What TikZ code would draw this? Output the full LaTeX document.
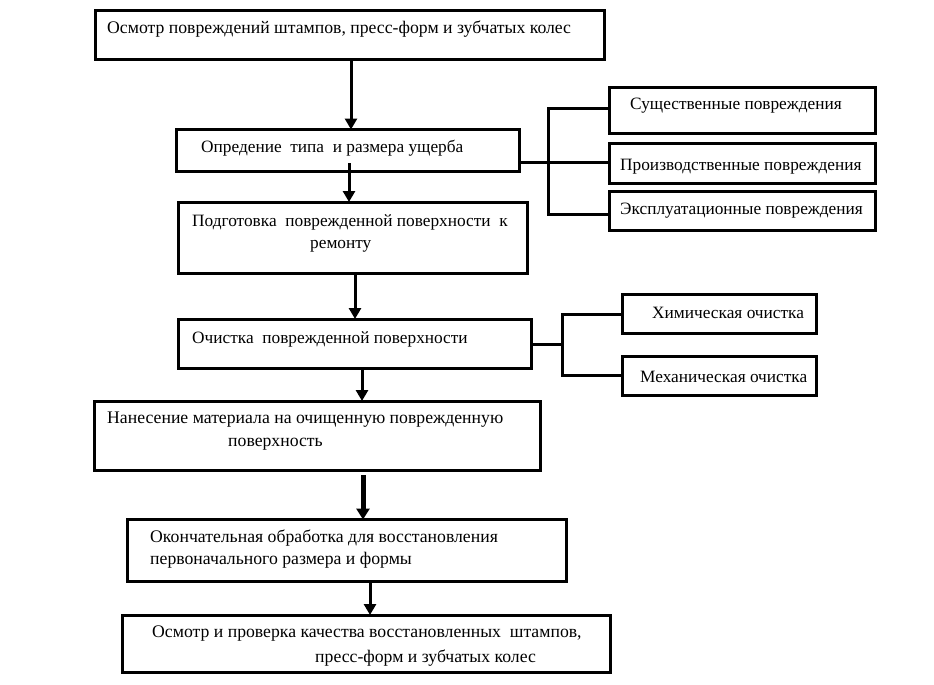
\documentclass[tikz,border=0pt]{standalone}
\usepackage{fontspec}
\setmainfont{Liberation Serif}
\usetikzlibrary{arrows.meta}
\begin{document}
\begin{tikzpicture}[x=1pt,y=-1pt,
  box/.style={draw=black,line width=3pt,minimum width=#1,inner sep=0pt,outer sep=0pt,fill=none},
  txt/.style={inner sep=0pt,anchor=west,font=\fontsize{17.7}{20}\selectfont},
  stxt/.style={txt,font=\fontsize{17.3}{20}\selectfont},
  conn/.style={draw=black,line width=3pt},
  arr/.style={draw=black,line width=3pt,-{Triangle[width=12pt,length=11pt]}},
  thickarr/.style={draw=black,line width=5pt,-{Triangle[width=13pt,length=11pt]}}]
\useasboundingbox (0,0) rectangle (934,685);
% main boxes
\node[box=509pt,minimum height=49pt] (b1) at (349.5,35.5) {};
\node[box=343pt,minimum height=42pt] (b2) at (348,150.5) {};
\node[box=349pt,minimum height=71pt] (b3) at (352.5,237.5) {};
\node[box=353pt,minimum height=49pt] (b4) at (355,343.5) {};
\node[box=446pt,minimum height=69pt] (b5) at (317,435.5) {};
\node[box=439pt,minimum height=62pt] (b6) at (346.5,550.5) {};
\node[box=488pt,minimum height=57pt] (b7) at (366,643.5) {};
% side boxes
\node[box=266pt,minimum height=46pt] (r1) at (742,110.5) {};
\node[box=266pt,minimum height=40pt] (r2) at (742,163) {};
\node[box=266pt,minimum height=39pt] (r3) at (742,211) {};
\node[box=194pt,minimum height=39pt] (c1) at (719,313.5) {};
\node[box=194pt,minimum height=39pt] (c2) at (719,375.5) {};
% texts
\node[txt] (t1) at (107,29) {Осмотр повреждений штампов, пресс-форм и зубчатых колес};
\node[stxt] (t2) at (201,148) {Опредение\ \ типа\ \ и размера ущерба};
\node[stxt] (t3a) at (192,222) {Подготовка\ \ поврежденной поверхности\ \ к};
\node[stxt] (t3b) at (310,246) {ремонту};
\node[stxt] (t4) at (192,339) {Очистка\ \ поврежденной поверхности};
\node[txt] (t5a) at (107,420) {Нанесение материала на очищенную поврежденную};
\node[txt] (t5b) at (228,444) {поверхность};
\node[txt] (t6a) at (150,538) {Окончательная обработка для восстановления};
\node[txt] (t6b) at (150,560) {первоначального размера и формы};
\node[txt] (t7a) at (152,634) {Осмотр и проверка качества восстановленных\ \ штампов,};
\node[txt] (t7b) at (315,658) {пресс-форм и зубчатых колес};
\node[stxt] (tr1) at (630,106) {Существенные повреждения};
\node[stxt] (tr2) at (620,167) {Производственные повреждения};
\node[stxt] (tr3) at (620,211) {Эксплуатационные повреждения};
\node[stxt] (tc1) at (652,313) {Химическая очистка};
\node[stxt] (tc2) at (640,377) {Механическая очистка};
% vertical arrows
\draw[arr] (b1.south -| 351,0) -- (b2.north -| 351,0);
\draw[arr] (349,163) -- (b3.north -| 349,0);
\draw[arr] (b3.south -| 355,0) -- (b4.north -| 355,0);
\draw[arr] (b4.south -| 362,0) -- (b5.north -| 362,0);
\draw[thickarr] (363,475) -- (b6.north -| 363,0);
\draw[arr] (b6.south -| 370,0) -- (b7.north -| 370,0);
% bracket 1
\coordinate (j1) at (548,162);
\draw[conn] (b2.east |- j1) -- (r2.west |- j1);
\draw[conn] (r1.west |- 0,108) -| (548,214) -- (r3.west |- 0,214);
% bracket 2
\coordinate (j2) at (562,344);
\draw[conn] (b4.east |- j2) -- (j2);
\draw[conn] (c1.west |- 0,314) -| (562,375) -- (c2.west |- 0,375);
\end{tikzpicture}
\end{document}
